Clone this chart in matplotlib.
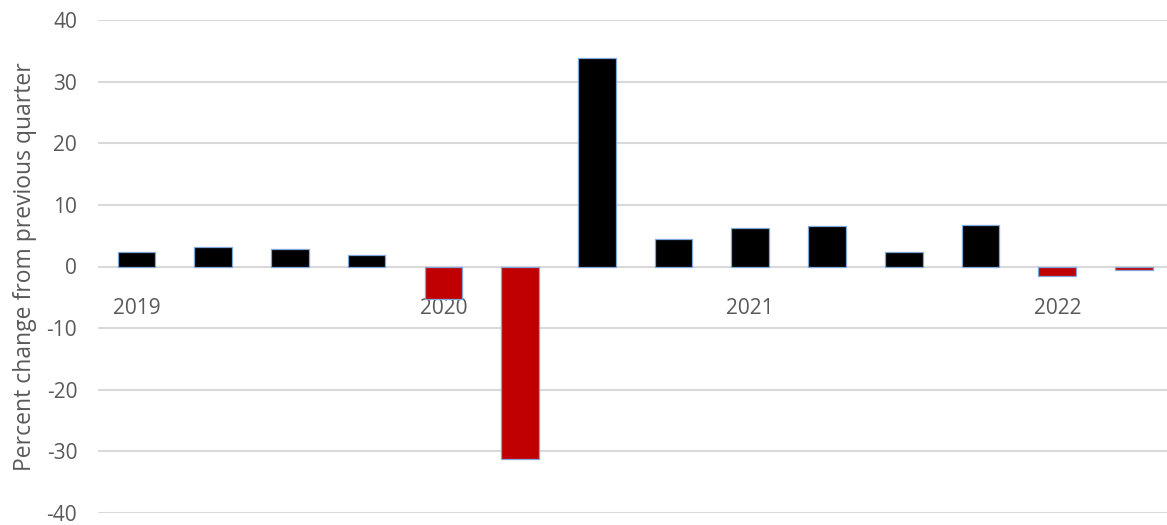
import numpy as np
import matplotlib.pyplot as plt

plt.rcParams['font.family'] = ['Open Sans', 'DejaVu Sans']

# real GDP, percent change from previous quarter (annualized), 2019 Q1 - 2022 Q2
quarters = ['2019Q1', '2019Q2', '2019Q3', '2019Q4',
            '2020Q1', '2020Q2', '2020Q3', '2020Q4',
            '2021Q1', '2021Q2', '2021Q3', '2021Q4',
            '2022Q1', '2022Q2']
growth = [2.3, 3.1, 2.8, 1.9,
          -5.2, -31.2, 33.8, 4.5,
          6.2, 6.6, 2.3, 6.8,
          -1.6, -0.6]
years = ['2019', '2020', '2021', '2022']

x = np.arange(len(quarters))
colors = ['#C00000' if g < 0 else 'black' for g in growth]

fig = plt.figure(figsize=(11.67, 5.25), dpi=100)
ax = fig.add_axes([98 / 1167, 12 / 525, 1069 / 1167, 493 / 525])

ax.bar(x, growth, width=0.49, color=colors, edgecolor='#7FA7D9', linewidth=0.9, zorder=3)

ax.set_xlim(-0.5, 13.43)
ax.set_ylim(-40, 40)
ax.set_yticks(np.arange(-40, 41, 10))
ax.set_yticklabels([str(v) for v in range(-40, 41, 10)])
ax.yaxis.grid(True, color='#D9D9D9', linewidth=1.5, zorder=0)
ax.tick_params(axis='y', length=0, pad=15, labelsize=15, labelcolor='#595959')

# year labels sit just under the zero line, one per first quarter
ax.spines['bottom'].set_position(('data', 0))
ax.set_xticks(x[::4])
ax.set_xticklabels(years)
ax.tick_params(axis='x', length=0, pad=23, labelsize=15, labelcolor='#595959')

for s in ax.spines.values():
    s.set_visible(False)

ax.set_ylabel('Percent change from previous quarter', fontsize=16.5, color='#595959', labelpad=7)

fig.savefig('out.png', dpi=100)
